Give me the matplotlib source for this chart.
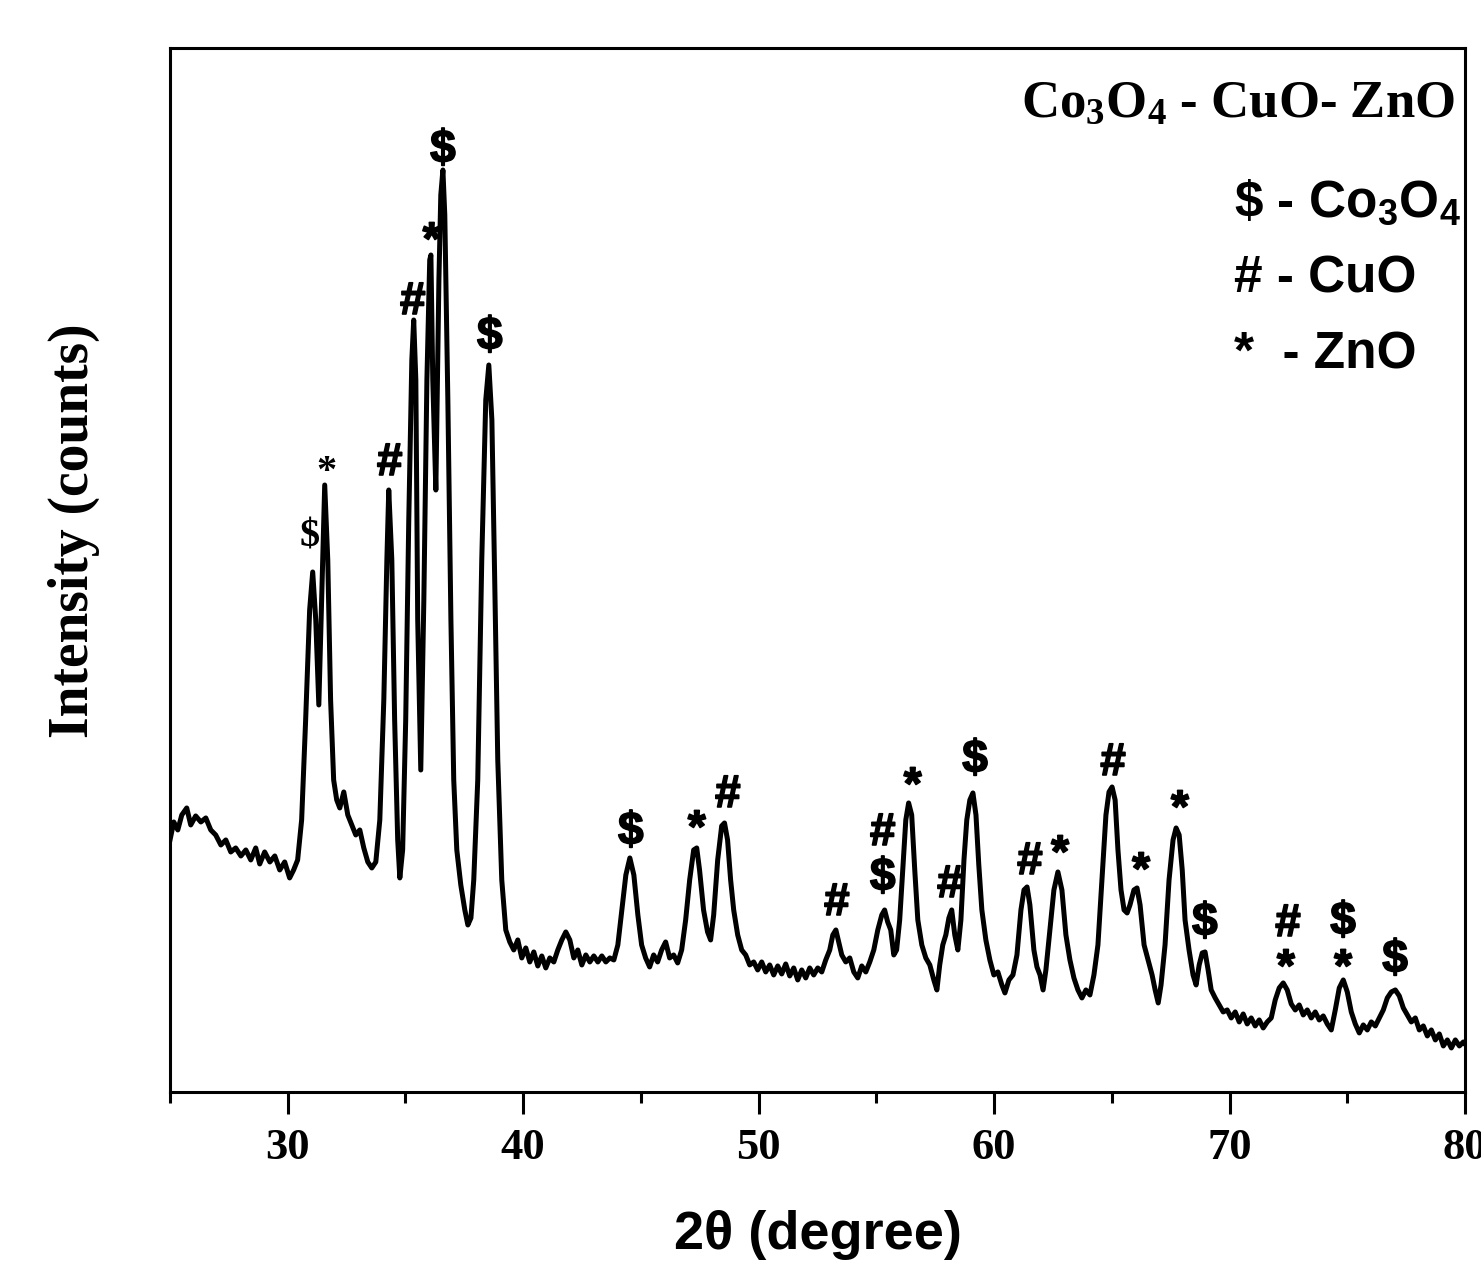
import matplotlib
matplotlib.use("Agg")
import matplotlib.pyplot as plt
import matplotlib.patheffects as pe
from matplotlib.ticker import MultipleLocator

# XRD pattern (2theta in degree, intensity in arbitrary counts)
two_theta = [
    25.00, 25.16, 25.33, 25.50, 25.71, 25.88, 26.09, 26.31, 26.52, 26.73, 26.94, 27.16, 27.37, 27.58,
    27.79, 28.01, 28.22, 28.43, 28.64, 28.81, 29.02, 29.24, 29.45, 29.66, 29.87, 30.08, 30.25, 30.42,
    30.59, 30.76, 30.93, 31.06, 31.19, 31.32, 31.44, 31.57, 31.70, 31.82, 31.95, 32.08, 32.21, 32.38,
    32.55, 32.72, 32.89, 33.06, 33.23, 33.40, 33.57, 33.74, 33.91, 34.08, 34.21, 34.29, 34.42, 34.54,
    34.67, 34.76, 34.88, 35.01, 35.14, 35.27, 35.35, 35.44, 35.52, 35.65, 35.78, 35.91, 36.03, 36.08,
    36.16, 36.29, 36.42, 36.50, 36.59, 36.67, 36.80, 36.93, 37.05, 37.18, 37.35, 37.52, 37.65, 37.78,
    37.90, 38.07, 38.24, 38.41, 38.54, 38.67, 38.79, 38.92, 39.09, 39.26, 39.43, 39.60, 39.77, 39.94,
    40.11, 40.28, 40.45, 40.62, 40.79, 40.96, 41.13, 41.30, 41.47, 41.64, 41.81, 41.98, 42.15, 42.32,
    42.49, 42.66, 42.83, 43.00, 43.17, 43.34, 43.51, 43.68, 43.85, 44.02, 44.19, 44.36, 44.53, 44.70,
    44.87, 45.03, 45.20, 45.37, 45.54, 45.71, 45.88, 46.05, 46.22, 46.39, 46.56, 46.73, 46.90, 47.07,
    47.24, 47.37, 47.49, 47.66, 47.83, 47.96, 48.09, 48.26, 48.43, 48.55, 48.68, 48.81, 48.94, 49.11,
    49.28, 49.45, 49.62, 49.79, 49.96, 50.13, 50.30, 50.47, 50.64, 50.81, 50.98, 51.15, 51.32, 51.49,
    51.66, 51.83, 52.00, 52.17, 52.34, 52.51, 52.68, 52.85, 53.02, 53.15, 53.28, 53.40, 53.53, 53.70,
    53.87, 54.04, 54.21, 54.38, 54.55, 54.72, 54.89, 55.06, 55.23, 55.35, 55.48, 55.61, 55.74, 55.86,
    55.99, 56.12, 56.25, 56.37, 56.50, 56.63, 56.76, 56.93, 57.10, 57.27, 57.44, 57.57, 57.69, 57.82,
    57.95, 58.08, 58.20, 58.33, 58.46, 58.59, 58.72, 58.84, 58.97, 59.10, 59.23, 59.35, 59.48, 59.65,
    59.82, 59.99, 60.16, 60.33, 60.46, 60.63, 60.80, 60.97, 61.14, 61.27, 61.40, 61.52, 61.69, 61.82,
    61.95, 62.08, 62.20, 62.37, 62.54, 62.71, 62.88, 63.05, 63.22, 63.39, 63.56, 63.73, 63.90, 64.07,
    64.24, 64.41, 64.58, 64.75, 64.88, 65.01, 65.14, 65.26, 65.39, 65.52, 65.65, 65.77, 65.94, 66.07,
    66.20, 66.37, 66.54, 66.71, 66.84, 66.97, 67.09, 67.26, 67.43, 67.60, 67.73, 67.86, 67.99, 68.11,
    68.28, 68.45, 68.58, 68.71, 68.84, 68.96, 69.09, 69.22, 69.39, 69.56, 69.73, 69.90, 70.07, 70.24,
    70.41, 70.58, 70.75, 70.92, 71.09, 71.26, 71.43, 71.60, 71.77, 71.94, 72.11, 72.28, 72.45, 72.62,
    72.79, 72.96, 73.13, 73.30, 73.47, 73.64, 73.81, 73.98, 74.15, 74.32, 74.49, 74.66, 74.83, 75.00,
    75.17, 75.34, 75.51, 75.68, 75.85, 76.02, 76.19, 76.36, 76.53, 76.70, 76.87, 77.04, 77.21, 77.38,
    77.55, 77.72, 77.89, 78.06, 78.23, 78.40, 78.57, 78.74, 78.91, 79.08, 79.25, 79.42, 79.59, 79.76,
    79.93, 80.00,
]
intensity = [
    252, 270, 262, 277, 284, 267, 276, 270, 274, 262, 257, 247, 252, 240,
    244, 236, 242, 232, 244, 228, 240, 230, 236, 222, 230, 214, 222, 232,
    272, 372, 482, 520, 472, 387, 492, 607, 532, 392, 312, 292, 284, 300,
    277, 267, 257, 262, 244, 230, 224, 230, 272, 392, 532, 602, 532, 372,
    252, 214, 242, 372, 572, 732, 772, 712, 472, 322, 492, 712, 832, 837,
    712, 602, 812, 897, 922, 877, 692, 472, 312, 242, 207, 182, 167, 174,
    212, 312, 532, 692, 727, 672, 512, 332, 212, 162, 150, 142, 152, 134,
    144, 130, 140, 126, 136, 124, 134, 130, 142, 152, 160, 152, 134, 142,
    127, 137, 130, 136, 130, 136, 130, 134, 132, 147, 182, 217, 234, 217,
    177, 147, 134, 125, 137, 130, 142, 150, 134, 137, 129, 142, 172, 212,
    242, 244, 222, 182, 160, 152, 177, 232, 266, 269, 252, 212, 182, 157,
    142, 137, 127, 130, 122, 130, 120, 127, 117, 126, 118, 128, 116, 124,
    112, 122, 114, 124, 117, 124, 120, 132, 142, 157, 162, 150, 137, 130,
    134, 120, 114, 126, 120, 130, 142, 162, 177, 182, 170, 162, 137, 142,
    172, 222, 272, 289, 277, 222, 172, 147, 134, 127, 112, 102, 127, 147,
    157, 174, 182, 157, 142, 172, 232, 272, 292, 299, 277, 227, 182, 152,
    132, 117, 120, 107, 99, 112, 117, 137, 182, 202, 205, 187, 142, 125,
    117, 102, 122, 162, 202, 220, 202, 157, 132, 114, 102, 94, 102, 97,
    117, 147, 212, 277, 300, 305, 292, 242, 202, 182, 179, 187, 202, 204,
    187, 147, 132, 117, 102, 89, 107, 147, 212, 252, 264, 257, 222, 172,
    142, 117, 107, 127, 139, 140, 122, 102, 94, 87, 80, 82, 74, 80,
    70, 78, 68, 74, 66, 72, 64, 70, 74, 92, 104, 109, 102, 88,
    82, 87, 77, 82, 74, 80, 72, 76, 68, 62, 82, 104, 112, 100,
    80, 68, 59, 67, 62, 70, 66, 74, 82, 94, 100, 102, 96, 84,
    77, 70, 74, 62, 66, 56, 62, 52, 58, 46, 52, 44, 52, 46,
    50, 48,
]

# phase marks above the peaks: $ Co3O4, # CuO, * ZnO
mark_x = [30.93, 31.66, 34.33, 35.31, 36.11, 36.59, 38.58, 44.57, 47.37, 48.69, 53.32, 55.27, 55.27,
          56.54, 58.12, 59.19, 61.52, 62.80, 65.05, 66.24, 67.89, 68.95, 72.48, 72.39, 74.82, 74.82, 77.03]
mark_y = [555, 619, 629, 790, 850, 942, 755, 260, 262, 297, 189, 259, 214,
          305, 207, 332, 230, 237, 329, 220, 282, 169, 168, 123, 170, 123, 132]
mark_sym = ["$", "*", "#", "#", "*", "$", "$", "$", "*", "#", "#", "#", "$",
            "*", "#", "$", "#", "*", "#", "*", "*", "$", "#", "*", "$", "*", "$"]
serif_marks = [0, 1]

legend_lines = [r"\$ - Co$\mathregular{_3}$O$\mathregular{_4}$", "# - CuO", "*  - ZnO"]
sample_name = r"Co$\mathregular{_3}$O$\mathregular{_4}$ - CuO- ZnO"

serif = "Liberation Serif"
sans = "Liberation Sans"

fig = plt.figure(figsize=(14.81, 12.70), dpi=100)
ax = fig.add_axes([0.1148, 0.1402, 0.8744, 0.8220])

ax.plot(two_theta, intensity, color="black", lw=3.6, solid_joinstyle="round")

heavy = [pe.withStroke(linewidth=1.2, foreground="black")]
for i, (x, y, s) in enumerate(zip(mark_x, mark_y, mark_sym)):
    if i in serif_marks:
        ax.text(x, y, s, family=serif, fontweight="bold", fontsize=29, ha="center", va="center")
    else:
        t = s.replace("$", r"\$")
        ax.text(x, y, t, family=sans, fontweight="bold", fontsize=33, ha="center", va="center",
                path_effects=heavy)

ax.text(0.992, 0.947, sample_name, transform=ax.transAxes, family=serif, fontweight="bold",
        fontsize=38, ha="right", va="center")
for k, line in enumerate(legend_lines):
    ax.text(0.822, 0.852 - k * 0.073, line, transform=ax.transAxes, family=sans,
            fontweight="bold", fontsize=37, ha="left", va="center")

ax.set_xlim(25, 80)
ax.set_ylim(0, 1044)
ax.xaxis.set_major_locator(MultipleLocator(10))
ax.xaxis.set_minor_locator(MultipleLocator(5))
ax.set_yticks([])
ax.tick_params(axis="x", which="major", direction="out", length=16, width=2.2, pad=10)
ax.tick_params(axis="x", which="minor", direction="out", length=8, width=2.2)
for lab in ax.get_xticklabels():
    lab.set_family(serif)
    lab.set_fontweight("bold")
    lab.set_fontsize(32)
for sp in ax.spines.values():
    sp.set_linewidth(2.2)

ax.set_xlabel("2θ (degree)", family=sans, fontweight="bold", fontsize=39, labelpad=30)
ax.set_ylabel("Intensity (counts)", family=serif, fontweight="bold", fontsize=40)
ax.yaxis.set_label_coords(-0.054, 0.538)

fig.savefig("out.png", dpi=100)
